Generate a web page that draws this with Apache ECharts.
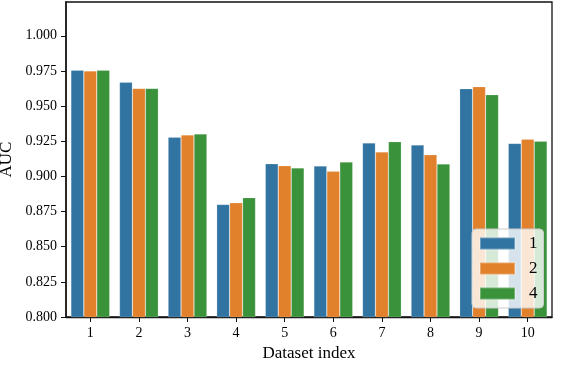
<!DOCTYPE html>
<html>
<head>
<meta charset="utf-8">
<script src="https://cdn.jsdelivr.net/npm/echarts@6/dist/echarts.min.js"></script>
<style>html,body{margin:0;padding:0;background:#fff}#c{width:576px;height:392px}</style>
</head>
<body>
<div id="c"></div>
<script>
const categories = ['1','2','3','4','5','6','7','8','9','10'];
const seriesNames = ['1','2','4'];
const auc1 = [0.9755, 0.9669, 0.9278, 0.8801, 0.9090, 0.9074, 0.9238, 0.9223, 0.9624, 0.9235];
const auc2 = [0.9750, 0.9626, 0.9294, 0.8813, 0.9076, 0.9036, 0.9174, 0.9154, 0.9638, 0.9264];
const auc4 = [0.9755, 0.9626, 0.9302, 0.8849, 0.9060, 0.9102, 0.9247, 0.9088, 0.9581, 0.9250];
const yTicks = [0.800, 0.825, 0.850, 0.875, 0.900, 0.925, 0.950, 0.975, 1.000];
const colors = ['#3274a1', '#e1812c', '#3a923a'];
const font = 'Liberation Serif';

const chart = echarts.init(document.getElementById('c'), null, {renderer: 'canvas'});
const values = [auc1, auc2, auc4];
chart.setOption({
  animation: false,
  grid: {left: 66, right: 24, top: 2, bottom: 75, show: true, borderColor: '#111', borderWidth: 1.3,
    containLabel: false, outerBoundsMode: 'none'},
  legend: {
    orient: 'vertical', left: 472, top: 229,
    data: seriesNames,
    icon: 'rect', itemWidth: 35, itemHeight: 12, itemGap: 8,
    padding: [6, 6, 6, 7],
    backgroundColor: 'rgba(255,255,255,0.8)', borderColor: '#cccccc', borderWidth: 1, borderRadius: 4,
    textStyle: {fontFamily: font, fontSize: 17, color: '#000', lineHeight: 17, padding: [0, 0, 0, 9]}
  },
  xAxis: {
    type: 'category', data: categories,
    name: 'Dataset index', nameLocation: 'middle', nameGap: 27,
    nameTextStyle: {fontFamily: font, fontSize: 17, color: '#000'},
    axisLine: {show: true, lineStyle: {color: '#111', width: 1.3}},
    axisTick: {show: true, alignWithLabel: true, length: 5, lineStyle: {color: '#111', width: 1}},
    axisLabel: {fontFamily: font, fontSize: 14, color: '#000', margin: 9},
    splitLine: {show: false}
  },
  yAxis: {
    type: 'value', min: 0.8, max: 1.024,
    name: 'AUC', nameLocation: 'middle', nameGap: 46,
    nameTextStyle: {fontFamily: font, fontSize: 17, color: '#000'},
    axisLine: {show: true, lineStyle: {color: '#222', width: 1.8}},
    axisTick: {show: true, length: 5, lineStyle: {color: '#111', width: 1}, customValues: yTicks},
    axisLabel: {fontFamily: font, fontSize: 14, color: '#000', margin: 9, customValues: yTicks,
      formatter: v => v.toFixed(3)},
    splitLine: {show: false}
  },
  series: seriesNames.map((n, i) => ({
    name: n, type: 'bar', data: values[i],
    barGap: '0%', barCategoryGap: '20%',
    itemStyle: {color: colors[i], borderColor: 'rgba(255,255,255,0.3)', borderWidth: 0.6}
  }))
});
</script>
</body>
</html>
